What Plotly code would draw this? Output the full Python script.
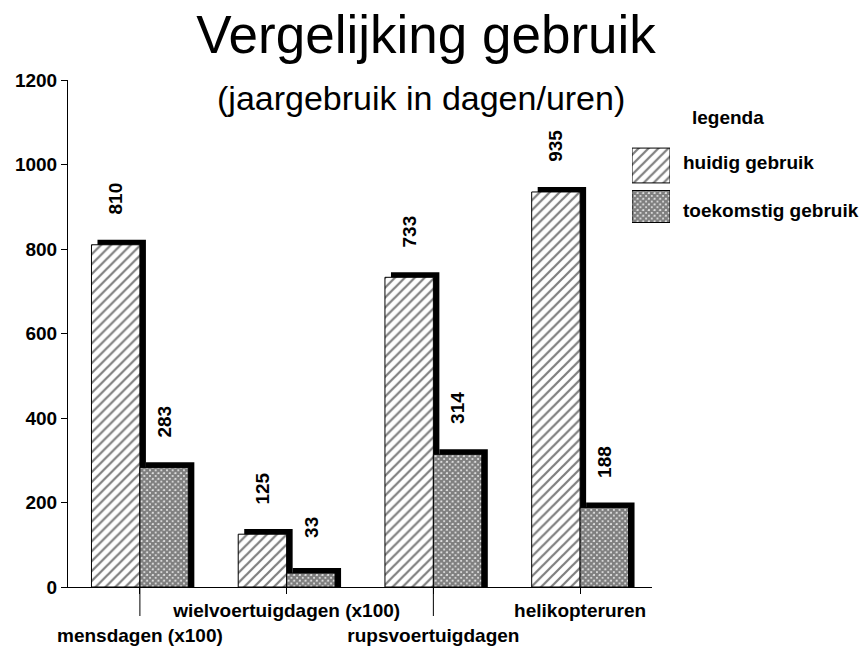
import plotly.graph_objects as go

categories = ["mensdagen (x100)", "wielvoertuigdagen (x100)", "rupsvoertuigdagen", "helikopteruren"]
huidig = [810, 125, 733, 935]
toekomstig = [283, 33, 314, 188]
series_names = ["huidig gebruik", "toekomstig gebruik"]
y_ticks = [0, 200, 400, 600, 800, 1000, 1200]

FONT = "Liberation Sans, Arial, sans-serif"
W, H = 868, 648
ML, MR, MT, MB = 68, 10, 80, 61
PW = W - ML - MR
PH = H - MT - MB
X_DOM = 584 / PW

BW = 0.33          # bar width in category units
DX = 0.041         # shadow shift (x)
DY = 12            # shadow shift (y units)

xs = list(range(len(categories)))

hatch = dict(shape="/", fgcolor="black", bgcolor="white", size=7, solidity=0.32)
cross = dict(shape="x", fgcolor="black", bgcolor="white", size=4, solidity=0.85)

def b(t):
    return "<b>" + t + "</b>"

fig = go.Figure()

def add_series(vals, off, pattern):
    fig.add_trace(go.Bar(
        x=xs, y=[v + DY for v in vals], offset=off + DX, width=BW,
        marker=dict(color="black", line=dict(width=0)),
        showlegend=False, hoverinfo="skip"))
    fig.add_trace(go.Bar(
        x=xs, y=vals, offset=off, width=BW,
        marker=dict(color="white", pattern=pattern, line=dict(color="black", width=1)),
        showlegend=False))

add_series(huidig, -BW, hatch)
add_series(toekomstig, 0, cross)

# value labels
for i, (a, c) in enumerate(zip(huidig, toekomstig)):
    for xv, v in ((i - BW / 2, a), (i + BW / 2, c)):
        fig.add_annotation(x=xv, y=v, text=b(str(v)), textangle=-90, showarrow=False,
                           yshift=46, xanchor="center", yanchor="middle",
                           font=dict(family=FONT, size=19, color="black"))

# staggered tick labels
ticktext = []
for i, c in enumerate(categories):
    ticktext.append("<br>" + b(c) if i % 2 == 0 else b(c))

# long ticks for lower labels
for i in xs:
    if i % 2 == 0:
        fig.add_shape(type="line", xref="x", yref="paper", x0=i, x1=i,
                      y0=0, y1=-29 / PH, line=dict(color="black", width=1))

# legend swatches on a small hidden axis pair
leg_y0 = (587 - 227) / PH
leg_y1 = (587 - 145) / PH
fig.add_trace(go.Bar(x=[1], y=[series_names[0]], orientation="h", width=0.85,
                     marker=dict(color="white", pattern=hatch, line=dict(color="black", width=1)),
                     xaxis="x3", yaxis="y3", showlegend=False, hoverinfo="skip"))
fig.add_trace(go.Bar(x=[1], y=[series_names[1]], orientation="h", width=0.78,
                     marker=dict(color="white", pattern=cross, line=dict(color="black", width=1)),
                     xaxis="x3", yaxis="y3", showlegend=False, hoverinfo="skip"))

fig.add_annotation(xref="paper", yref="paper", x=(690 - ML) / PW, y=(587 - 117) / PH,
                   text=b("legenda"), showarrow=False, xanchor="left", yanchor="middle",
                   font=dict(family=FONT, size=19, color="black"))
fig.add_annotation(xref="paper", yref="paper", x=(681 - ML) / PW, y=(587 - 162) / PH,
                   text=b(series_names[0]), showarrow=False, xanchor="left", yanchor="middle",
                   font=dict(family=FONT, size=19, color="black"))
fig.add_annotation(xref="paper", yref="paper", x=(681 - ML) / PW, y=(587 - 210) / PH,
                   text=b(series_names[1]), showarrow=False, xanchor="left", yanchor="middle",
                   font=dict(family=FONT, size=19, color="black"))

# subtitle
fig.add_annotation(xref="paper", yref="paper", x=(421 - ML) / PW, y=(587 - 98) / PH,
                   text="(jaargebruik in dagen/uren)", showarrow=False,
                   xanchor="center", yanchor="middle",
                   font=dict(family=FONT, size=34, color="black"))

fig.update_layout(
    width=W, height=H,
    margin=dict(l=ML, r=MR, t=MT, b=MB, autoexpand=False),
    paper_bgcolor="white", plot_bgcolor="white",
    barmode="overlay",
    title=dict(text="Vergelijking gebruik", x=426 / W, y=1 - 34 / H,
               xanchor="center", yanchor="middle", automargin=False,
               font=dict(family=FONT, size=53, color="black")),
    font=dict(family=FONT, color="black"),
    xaxis=dict(domain=[0, X_DOM], range=[-0.49, 3.49], tickmode="array",
               tickvals=xs, ticktext=ticktext, ticks="outside", ticklen=6,
               tickangle=0, automargin=False,
               tickcolor="black", showline=True, linecolor="black", linewidth=1,
               showgrid=False, zeroline=False,
               tickfont=dict(family=FONT, size=19, color="black")),
    yaxis=dict(range=[0, 1200], tickmode="array", tickvals=y_ticks,
               ticktext=[b(str(t)) for t in y_ticks],
               ticks="outside", ticklen=6, tickcolor="black", automargin=False,
               showline=True, linecolor="black", linewidth=1,
               showgrid=False, zeroline=False,
               tickfont=dict(family=FONT, size=19, color="black")),
    xaxis3=dict(domain=[(632 - ML) / PW, (670 - ML) / PW], range=[0, 1],
                visible=False, anchor="y3", fixedrange=True),
    yaxis3=dict(domain=[leg_y0, leg_y1], visible=False, anchor="x3",
                autorange="reversed", type="category", fixedrange=True),
)

fig.write_html("out.html", config={"displayModeBar": False},
               post_script="document.body.style.margin='0px';document.body.style.overflow='hidden';")
